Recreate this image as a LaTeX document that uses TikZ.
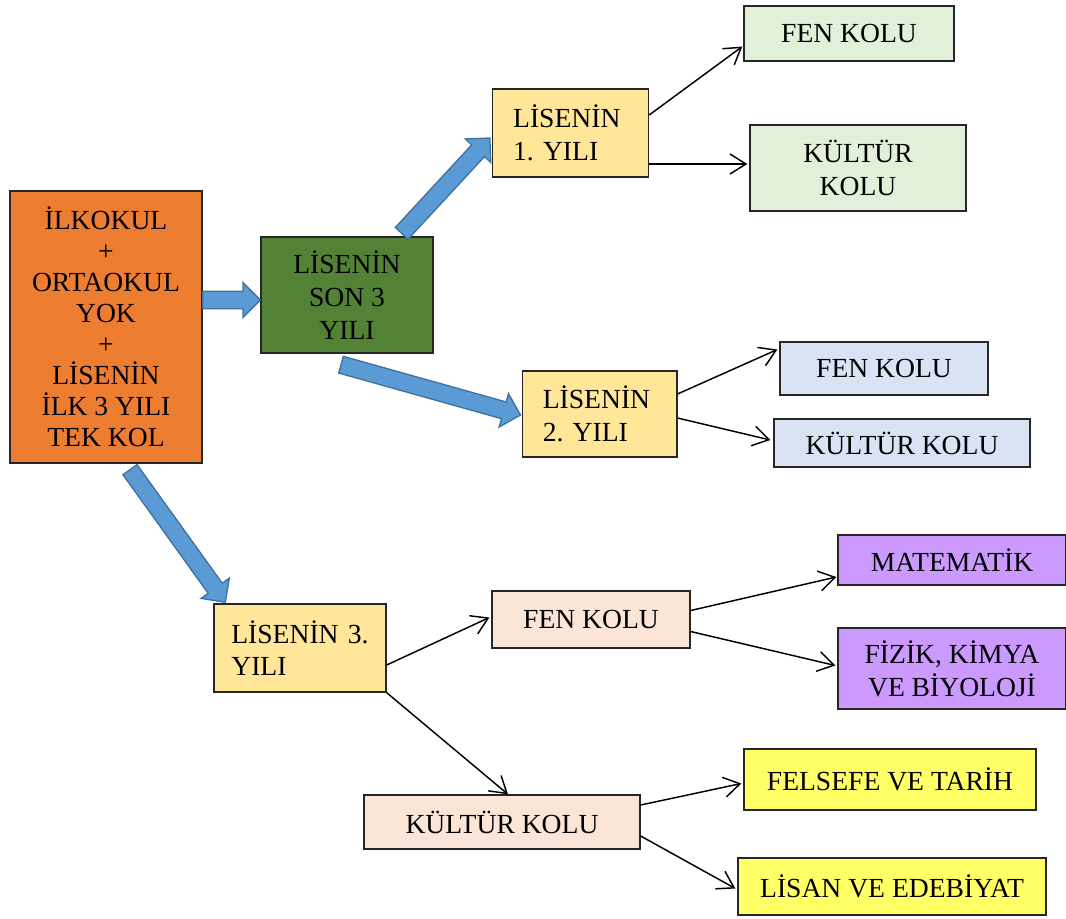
\documentclass[tikz,border=0pt]{standalone}
\usepackage{fontspec}
\setmainfont{Liberation Serif}
\usetikzlibrary{calc,arrows.meta}
\frenchspacing

\definecolor{boxorange}{HTML}{ED7D31}
\definecolor{boxgreen}{HTML}{538135}
\definecolor{boxsand}{HTML}{FFE699}
\definecolor{boxmint}{HTML}{E2F0D9}
\definecolor{boxsky}{HTML}{DAE3F3}
\definecolor{boxpeach}{HTML}{FBE5D6}
\definecolor{boxlilac}{HTML}{CC99FF}
\definecolor{boxlemon}{HTML}{FFFF66}
\definecolor{fatblue}{HTML}{5B9BD5}
\definecolor{fatedge}{HTML}{41719C}

\tikzset{
  box/.style={draw=black!85, line width=1pt, align=center, inner sep=2pt,
    font=\fontsize{20.7}{24.5}\selectfont},
  leftbox/.style={box, align=left, inner xsep=15.5pt},
  thin/.style={line width=1.1pt, -{Straight Barb[length=12pt,width=15pt]}},
  fatarr/.style={fill=fatblue, draw=fatedge, line width=1pt, line join=miter}
}

% block arrow from #1 to #2
\newcommand{\fatarrow}[2]{%
  \coordinate (fh) at ($(#2)!13pt!(#1)$);
  \draw[fatarr] ($(#1)!6.5pt!90:(#2)$) -- ($(fh)!6.5pt!90:(#2)$) -- ($(fh)!13pt!90:(#2)$) -- (#2)
    -- ($(fh)!13pt!-90:(#2)$) -- ($(fh)!6.5pt!-90:(#2)$) -- ($(#1)!6.5pt!-90:(#2)$) -- cycle;
}

\begin{document}
\begin{tikzpicture}[x=0.75pt,y=0.75pt,yscale=-1,xscale=1]
\useasboundingbox (0,0) rectangle (1066,918);

%Shape: Rectangle [orange]
\node[box, fill=boxorange, minimum width=144pt, minimum height=204pt, font=\fontsize{20.7}{23.3}\selectfont] (okul) at (106,327)
  {İLKOKUL\\+\\ORTAOKUL\\YOK\\+\\LİSENİN\\İLK 3 YILI\\TEK KOL};
%Shape: Rectangle [green]
\node[box, fill=boxgreen, minimum width=129pt, minimum height=87pt] (son3) at (347,295)
  {LİSENİN\\SON 3\\YILI};

% first year
\node[leftbox, fill=boxsand, text width=86pt, minimum height=66pt] (yil1) at (570.5,133) {LİSENİN\\1. YILI};
\node[box, fill=boxmint, minimum width=157.5pt, minimum height=41.25pt] (fen1) at (849,33.5) {FEN KOLU};
\node[box, fill=boxmint, minimum width=162pt, minimum height=64.5pt] (kul1) at (858,168) {KÜLTÜR\\KOLU};

% second year
\node[leftbox, fill=boxsand, text width=85pt, minimum height=64.5pt] (yil2) at (599.5,414) {LİSENİN\\2. YILI};
\node[box, fill=boxsky, minimum width=156pt, minimum height=39.75pt] (fen2) at (884,368.5) {FEN KOLU};
\node[box, fill=boxsky, minimum width=192pt, minimum height=36pt] (kul2) at (902,443) {KÜLTÜR KOLU};

% third year
\node[leftbox, fill=boxsand, text width=103pt, inner xsep=13pt, minimum height=66pt] (yil3) at (300,648) {LİSENİN 3.\\YILI};
\node[box, fill=boxpeach, minimum width=148.5pt, minimum height=42.75pt] (fen3) at (591,619.5) {FEN KOLU};
\node[box, fill=boxpeach, minimum width=207pt, minimum height=40.5pt] (kul3) at (502,822) {KÜLTÜR KOLU};
\node[box, fill=boxlilac, minimum width=171pt, minimum height=37.5pt] (mat) at (952,560) {MATEMATİK};
\node[box, fill=boxlilac, minimum width=171pt, minimum height=60.75pt] (fiz) at (952,668.5) {FİZİK, KİMYA\\VE BİYOLOJİ};
\node[box, fill=boxlemon, minimum width=219pt, minimum height=45.75pt] (fel) at (890,779.5) {FELSEFE VE TARİH};
\node[box, fill=boxlemon, minimum width=231pt, minimum height=42.75pt] (lis) at (892,886.5) {LİSAN VE EDEBİYAT};

%Block Arrows
\fatarrow{$(okul.east)+(0,-27)$}{$(son3.west)+(0,5)$}
\fatarrow{$(son3.north east)+(-32,-3)$}{$(yil1.west)+(-2,5)$}
\fatarrow{$(son3.south)+(-6,11)$}{$(yil2.west)+(-1,1)$}
\fatarrow{$(okul.south)+(24,6)$}{$(yil3.north west)+(12,-1)$}

%Straight Lines
\draw[thin] ($(yil1.east)+(0,-18)$) -- ($(fen1.west)+(-1,13)$);
\draw[thin] ($(yil1.east)+(0,31)$) -- ($(kul1.west)+(-2,-4)$);
\draw[thin] ($(yil2.east)+(0,-20)$) -- ($(fen2.west)+(-2,-19)$);
\draw[thin] ($(yil2.east)+(0,4)$) -- ($(kul2.west)+(-3,-3)$);
\draw[thin] ($(yil3.east)+(0,17)$) -- ($(fen3.west)+(-2,-2)$);
\draw[thin] (yil3.south east) -- ($(kul3.north)+(6,0)$);
\draw[thin] ($(fen3.east)+(0,-9)$) -- ($(mat.west)+(-1,17)$);
\draw[thin] ($(fen3.east)+(0,12)$) -- ($(fiz.west)+(-2,-3)$);
\draw[thin] ($(kul3.east)+(0,-17)$) -- ($(fel.west)+(-2,4)$);
\draw[thin] ($(kul3.east)+(0,14)$) -- ($(lis.west)+(-2,2)$);

\end{tikzpicture}
\end{document}
